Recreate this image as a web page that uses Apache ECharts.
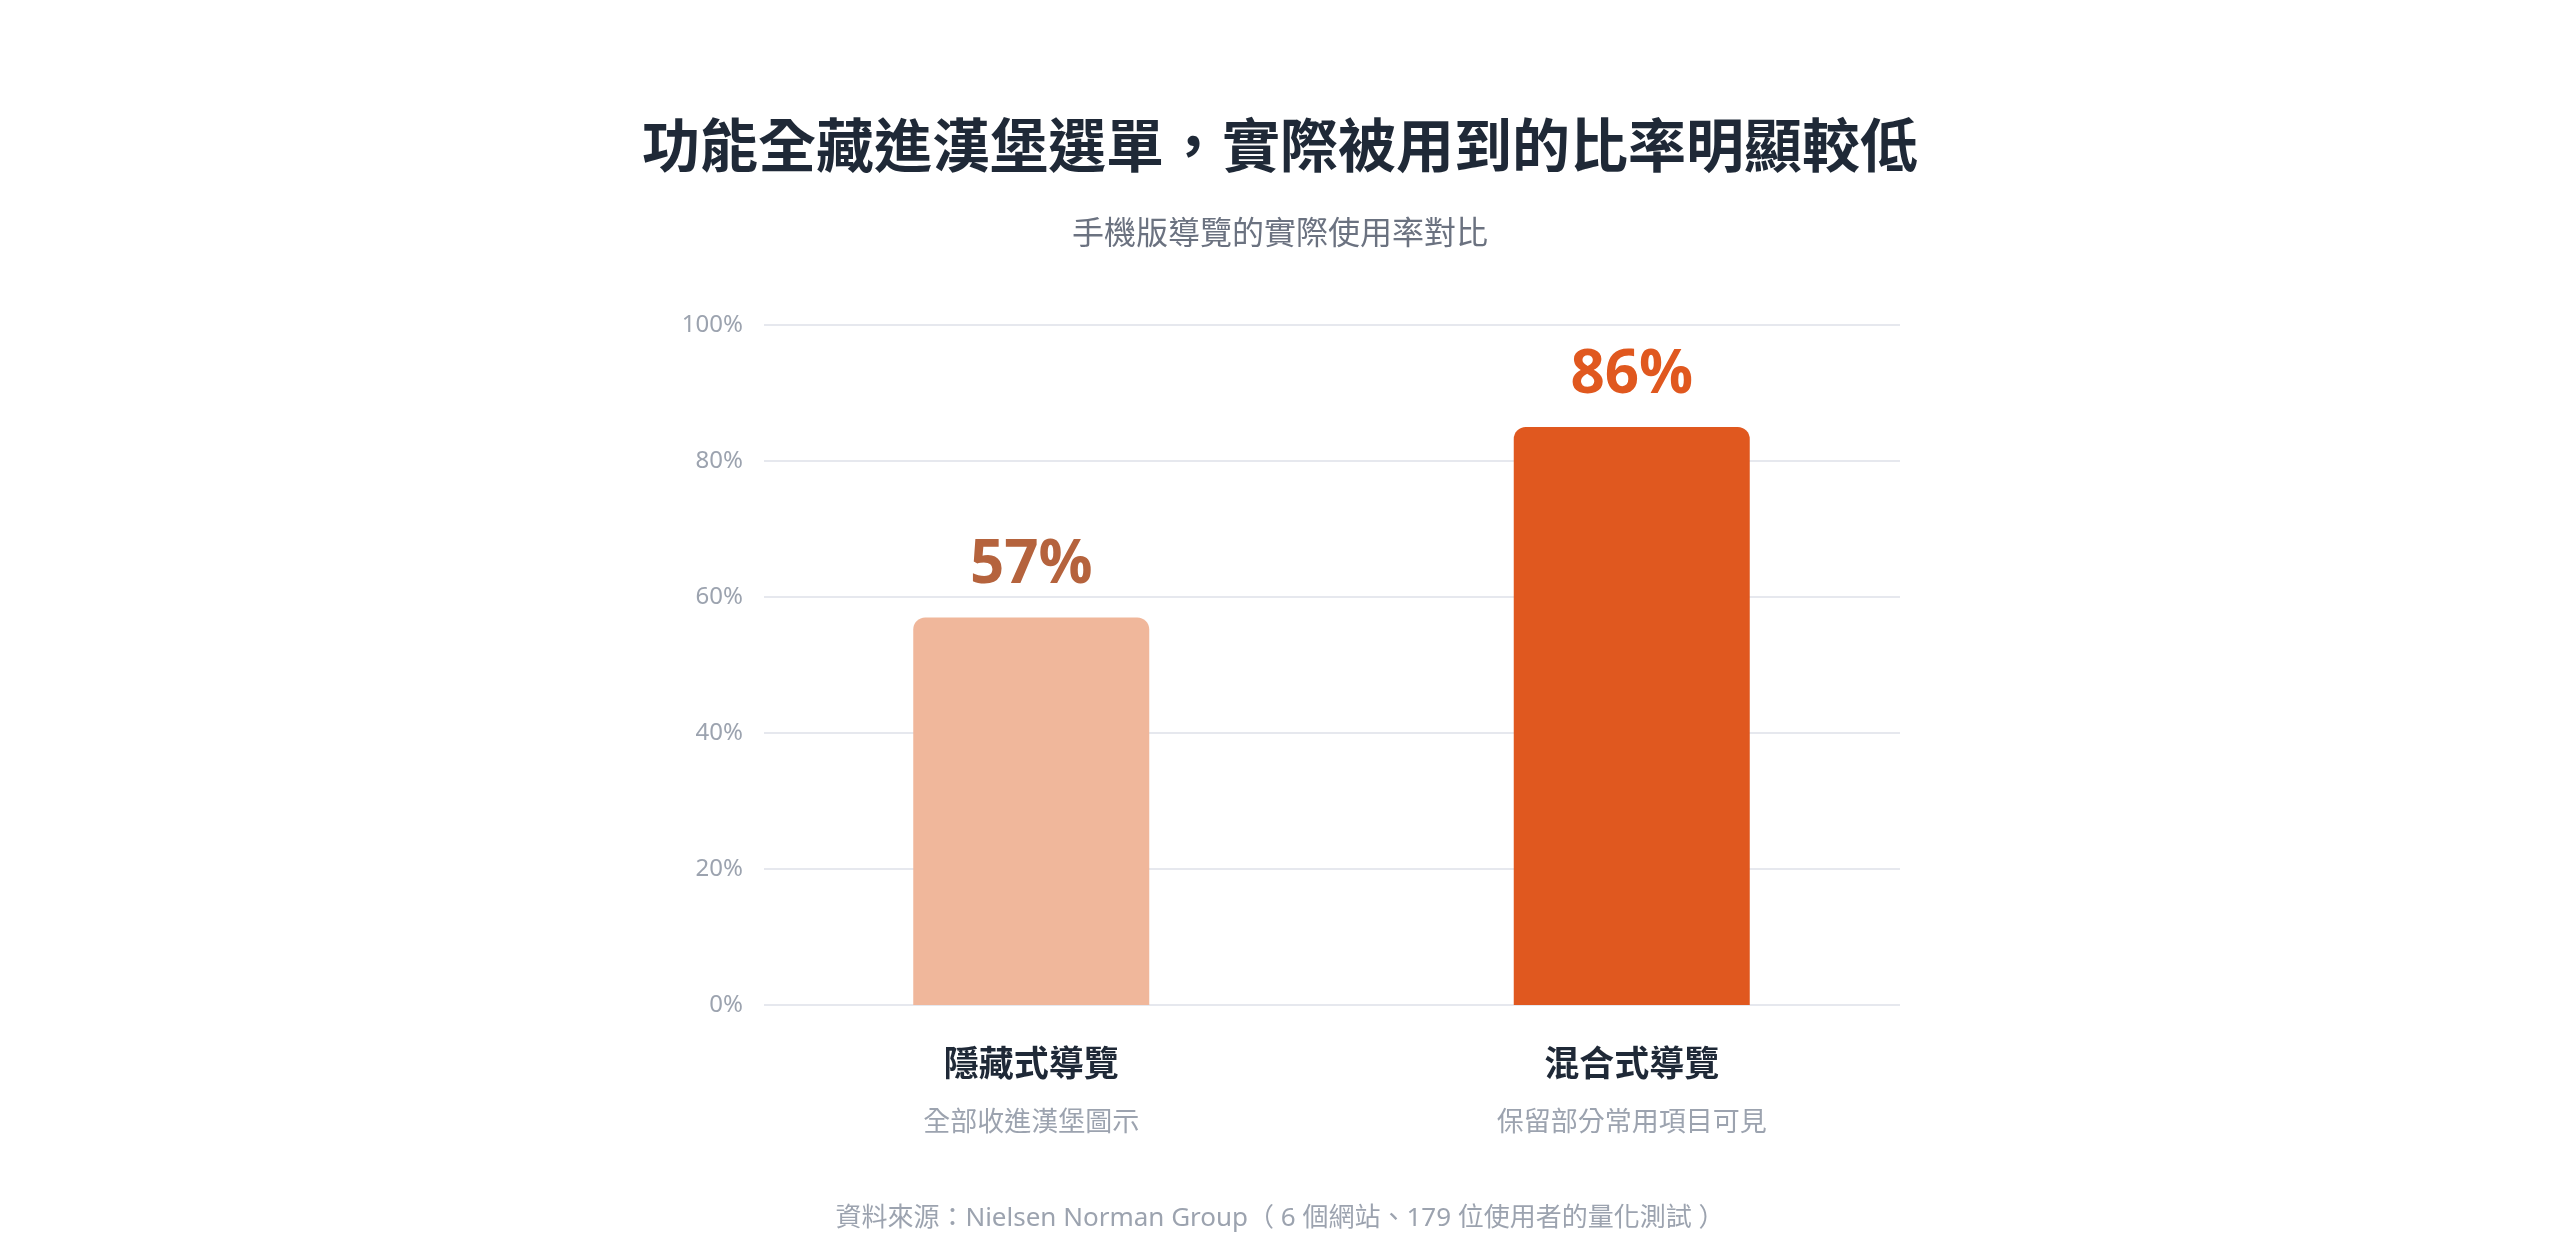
<!DOCTYPE html>
<html>
<head>
<meta charset="utf-8">
<script src="https://cdn.jsdelivr.net/npm/echarts@6/dist/echarts.min.js"></script>
<style>
  html, body { margin: 0; padding: 0; background: #fff; }
  #main { width: 2560px; height: 1252px; }
</style>
</head>
<body>
<div id="main"></div>
<script>
var categories = ['隱藏式導覽', '混合式導覽'];
var subLabels = ['全部收進漢堡圖示', '保留部分常用項目可見'];
var usage = [57, 85];
var valueLabels = ['57%', '86%'];
var barColors = ['#f0b79b', '#e0581f'];
var labelColors = ['#b5633d', '#e0581f'];
var yTicks = [0, 20, 40, 60, 80, 100];

var font = '"Noto Sans", "Noto Sans CJK TC", sans-serif';

var myChart = echarts.init(document.getElementById('main'));
var option = {
    backgroundColor: '#fff',
    textStyle: { fontFamily: font },
    title: [
        {
            text: '功能全藏進漢堡選單，實際被用到的比率明顯較低',
            left: 'center', top: 110,
            textStyle: { fontSize: 58, fontWeight: 'bold', color: '#1f2937', lineHeight: 70, fontFamily: font }
        },
        {
            text: '手機版導覽的實際使用率對比',
            left: 'center', top: 210,
            textStyle: { fontSize: 32, fontWeight: 'normal', color: '#6b7280', lineHeight: 40, fontFamily: font }
        },
        {
            text: '資料來源：Nielsen Norman Group（ 6 個網站、179 位使用者的量化測試 ）',
            left: 'center', top: 1196,
            textStyle: { fontSize: 26, fontWeight: 'normal', color: '#9ca3af', lineHeight: 36, fontFamily: font }
        }
    ],
    grid: [
        { left: 731, right: 628, top: 325, bottom: 247 },
        { left: 764, right: 660, top: 325, bottom: 247 }
    ],
    xAxis: [
        {
            type: 'category', gridIndex: 0, data: categories,
            axisLine: { show: false }, axisTick: { show: false },
            axisLabel: {
                margin: 32,
                formatter: function (v, i) { return '{name|' + v + '}\n{sub|' + subLabels[i] + '}'; },
                rich: {
                    name: { fontSize: 35, fontWeight: 'bold', color: '#1f2937', lineHeight: 58, fontFamily: font },
                    sub: { fontSize: 27, color: '#9ca3af', lineHeight: 56, fontFamily: font }
                }
            }
        },
        { type: 'category', gridIndex: 1, data: categories, show: false }
    ],
    yAxis: [
        { type: 'value', gridIndex: 0, min: 0, max: 100, interval: 20, show: false },
        {
            type: 'value', gridIndex: 1, min: yTicks[0], max: yTicks[yTicks.length - 1], interval: 20,
            axisLine: { show: false }, axisTick: { show: false },
            axisLabel: { formatter: '{value}%', margin: 21, fontSize: 24, color: '#9ca3af', fontFamily: font },
            splitLine: { lineStyle: { color: '#e6e8ee', width: 2 } }
        }
    ],
    series: [
        {
            type: 'bar', xAxisIndex: 0, yAxisIndex: 0,
            barWidth: 236,
            data: usage.map(function (v, i) {
                return {
                    value: v,
                    itemStyle: { color: barColors[i], borderRadius: [12, 12, 0, 0] },
                    label: { color: labelColors[i] }
                };
            }),
            label: {
                show: true, position: 'top', distance: 21,
                formatter: function (p) { return valueLabels[p.dataIndex]; },
                fontSize: 60, fontWeight: 'bold', lineHeight: 60,
                fontFamily: '"Open Sans", "Noto Sans", sans-serif'
            }
        }
    ]
};
myChart.setOption(option);
</script>
</body>
</html>
